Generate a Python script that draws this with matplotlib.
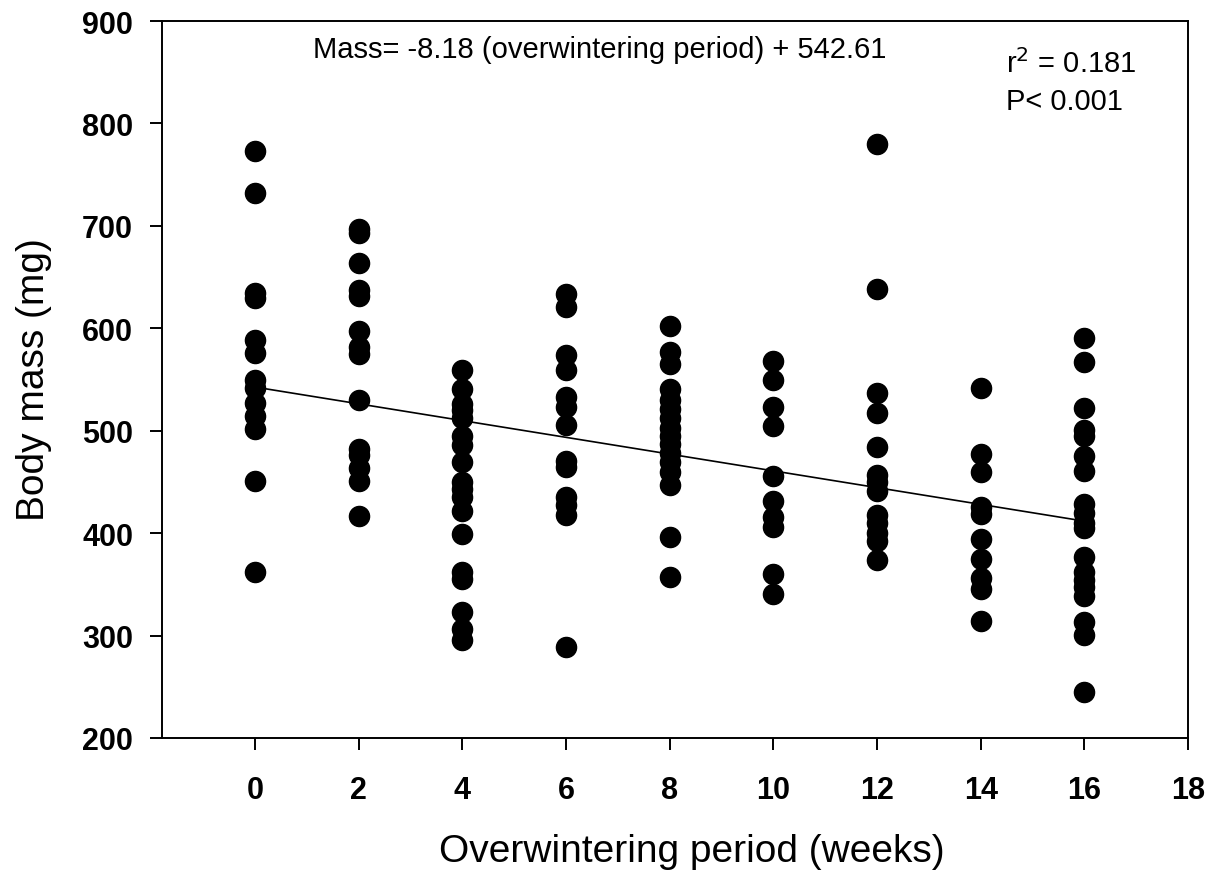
import matplotlib
matplotlib.use("Agg")
import matplotlib.pyplot as plt
import numpy as np

# Overwintering period (weeks) and individual body masses (mg)
weeks = [0, 2, 4, 6, 8, 10, 12, 14, 16]
mass_w0 = [773, 732, 634, 630, 589, 576, 550, 542, 527, 514, 502, 451, 362]
mass_w2 = [697, 693, 664, 637, 632, 597, 582, 575, 530, 482, 476, 464, 451, 417]
mass_w4 = [559, 541, 526, 520, 512, 495, 486, 469, 450, 443, 435, 422, 399,
           362, 355, 323, 306, 296]
mass_w6 = [633, 621, 574, 559, 533, 523, 506, 470, 465, 435, 427, 418, 289]
mass_w8 = [602, 577, 565, 541, 530, 521, 512, 503, 495, 487, 478, 469, 460,
           447, 396, 357]
mass_w10 = [568, 550, 523, 505, 456, 431, 416, 406, 360, 341]
mass_w12 = [780, 638, 537, 517, 484, 457, 450, 441, 418, 410, 400, 392, 374]
mass_w14 = [542, 477, 460, 426, 419, 394, 375, 356, 345, 314]
mass_w16 = [591, 567, 522, 501, 495, 475, 461, 428, 420, 410, 405, 377, 362,
            354, 347, 339, 313, 301, 245]
groups = [mass_w0, mass_w2, mass_w4, mass_w6, mass_w8, mass_w10, mass_w12,
          mass_w14, mass_w16]

# Fitted regression
slope = -8.18
intercept = 542.61

x_ticks = [0, 2, 4, 6, 8, 10, 12, 14, 16, 18]
y_ticks = [200, 300, 400, 500, 600, 700, 800, 900]

plt.rcParams['font.family'] = ['Liberation Sans', 'DejaVu Sans']

W, H = 1215, 879
fig = plt.figure(figsize=(W / 100, H / 100), dpi=100)
ax = fig.add_axes([161.7 / W, 1 - 739 / H, (1188 - 161.7) / W, (739 - 22) / H])

for wk, vals in zip(weeks, groups):
    ax.plot([wk] * len(vals), vals, 'o', color='black', ms=14.5,
            mec='black', zorder=3, clip_on=False)

x_fit = np.array([weeks[0], weeks[-1]])
ax.plot(x_fit, intercept + slope * x_fit, color='black', lw=1.2, zorder=2)

ax.set_xlim(-1.8, 18)
ax.set_ylim(200, 900)
ax.set_xticks(x_ticks)
ax.set_yticks(y_ticks)
for s in ax.spines.values():
    s.set_linewidth(1.4)
ax.tick_params(axis='both', direction='out', length=8.5, width=1.4,
               labelsize=22)
ax.tick_params(axis='y', pad=12)
ax.tick_params(axis='x', pad=18)
for lab in ax.get_xticklabels() + ax.get_yticklabels():
    lab.set_fontweight('bold')

fig.text(692 / W, 1 - 852 / H, 'Overwintering period (weeks)',
         ha='center', va='center', fontsize=28)
fig.text(34 / W, 1 - 380 / H, 'Body mass (mg)', ha='center', va='center',
         rotation=90, fontsize=28)

fig.text(313 / W, 1 - 50 / H,
         'Mass= -8.18 (overwintering period) + 542.61',
         ha='left', va='center', fontsize=21)
fig.text(1006 / W, 1 - 64 / H, r'r$^{2}$ = 0.181', ha='left', va='center',
         fontsize=21)
fig.text(1006 / W, 1 - 102 / H, 'P< 0.001', ha='left', va='center',
         fontsize=21)

fig.savefig('out.png', dpi=100)
